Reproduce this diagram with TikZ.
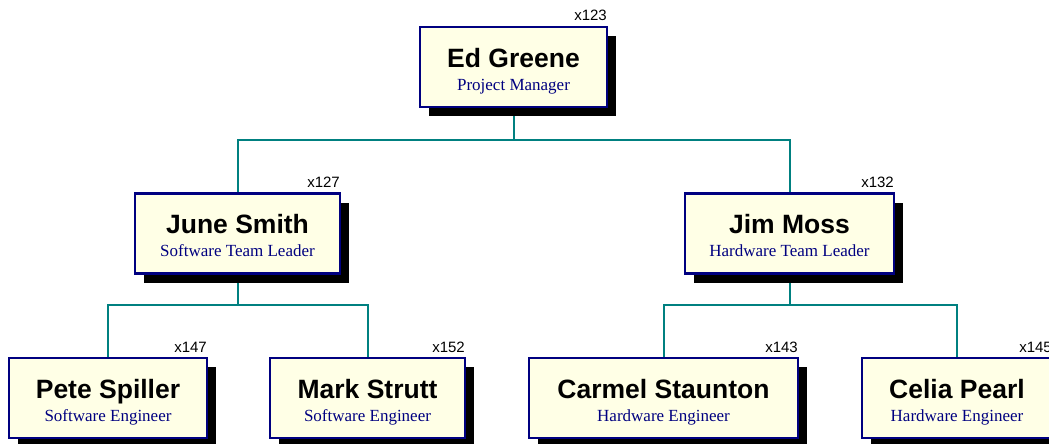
\documentclass[tikz,border=0pt]{standalone}
\usepackage{fontspec}
\setmainfont{Liberation Serif}
\setsansfont{Liberation Sans}
\usetikzlibrary{shadows,backgrounds}
\definecolor{boxfill}{HTML}{FFFFE6}
\definecolor{boxline}{HTML}{000080}
\definecolor{linkteal}{HTML}{008080}
\tikzset{
  orgcard/.style={draw=boxline, fill=boxfill, line width=2.4pt, outer sep=0pt,
    minimum height=80pt, inner sep=0pt,
    drop shadow={shadow xshift=9pt, shadow yshift=-9pt, fill=black, opacity=1}},
  nametext/.style={font=\sffamily\bfseries\fontsize{26.5}{30}\selectfont, text=black, inner sep=0pt, anchor=base},
  roletext/.style={font=\rmfamily\fontsize{17}{20}\selectfont, text=boxline, inner sep=0pt, anchor=base},
  exttext/.style={font=\sffamily\fontsize{15}{18}\selectfont, text=black, inner sep=0pt, anchor=base east},
  link/.style={draw=linkteal, line width=2pt}
}
% \orgcardnode{id}{cx}{cy}{width}{name}{role}{extension}
\newcommand{\orgcardnode}[7]{%
  \node[orgcard, minimum width=#4pt] (#1) at (#2,#3) {};
  \node[nametext] (#1-name) at ([yshift=-40pt]#1.north) {#5};
  \node[roletext] (#1-role) at ([yshift=-63pt]#1.north) {#6};
  \node[exttext] (#1-ext) at ([yshift=6pt]#1.north east) {#7};
}
\begin{document}
\begin{tikzpicture}[x=1pt, y=-1pt]
\useasboundingbox (0,0) rectangle (1049,444);
% cards
\orgcardnode{ed}{513.5}{67}{187}{Ed Greene}{Project Manager}{x123}
\orgcardnode{june}{237.5}{233.5}{205}{June Smith}{Software Team Leader}{x127}
\orgcardnode{jim}{789.5}{233.5}{209}{Jim Moss}{Hardware Team Leader}{x132}
\orgcardnode{pete}{108}{398}{198}{Pete Spiller}{Software Engineer}{x147}
\orgcardnode{mark}{367.5}{398}{195}{Mark Strutt}{Software Engineer}{x152}
\orgcardnode{carmel}{663.5}{398}{269}{Carmel Staunton}{Hardware Engineer}{x143}
\orgcardnode{celia}{957}{398}{190}{Celia Pearl}{Hardware Engineer}{x145}
% reporting lines, kept behind the cards and their shadows
\begin{scope}[on background layer]
\path[link] (ed.south) -- ++(0,33) -| (june.north);
\path[link] (ed.south) -- ++(0,33) -| (jim.north);
\path[link] (june.south) -- ++(0,31) -| (pete.north);
\path[link] (june.south) -- ++(0,31) -| (mark.north);
\path[link] (jim.south) -- ++(0,31) -| (carmel.north);
\path[link] (jim.south) -- ++(0,31) -| (celia.north);
\end{scope}
\end{tikzpicture}
\end{document}
